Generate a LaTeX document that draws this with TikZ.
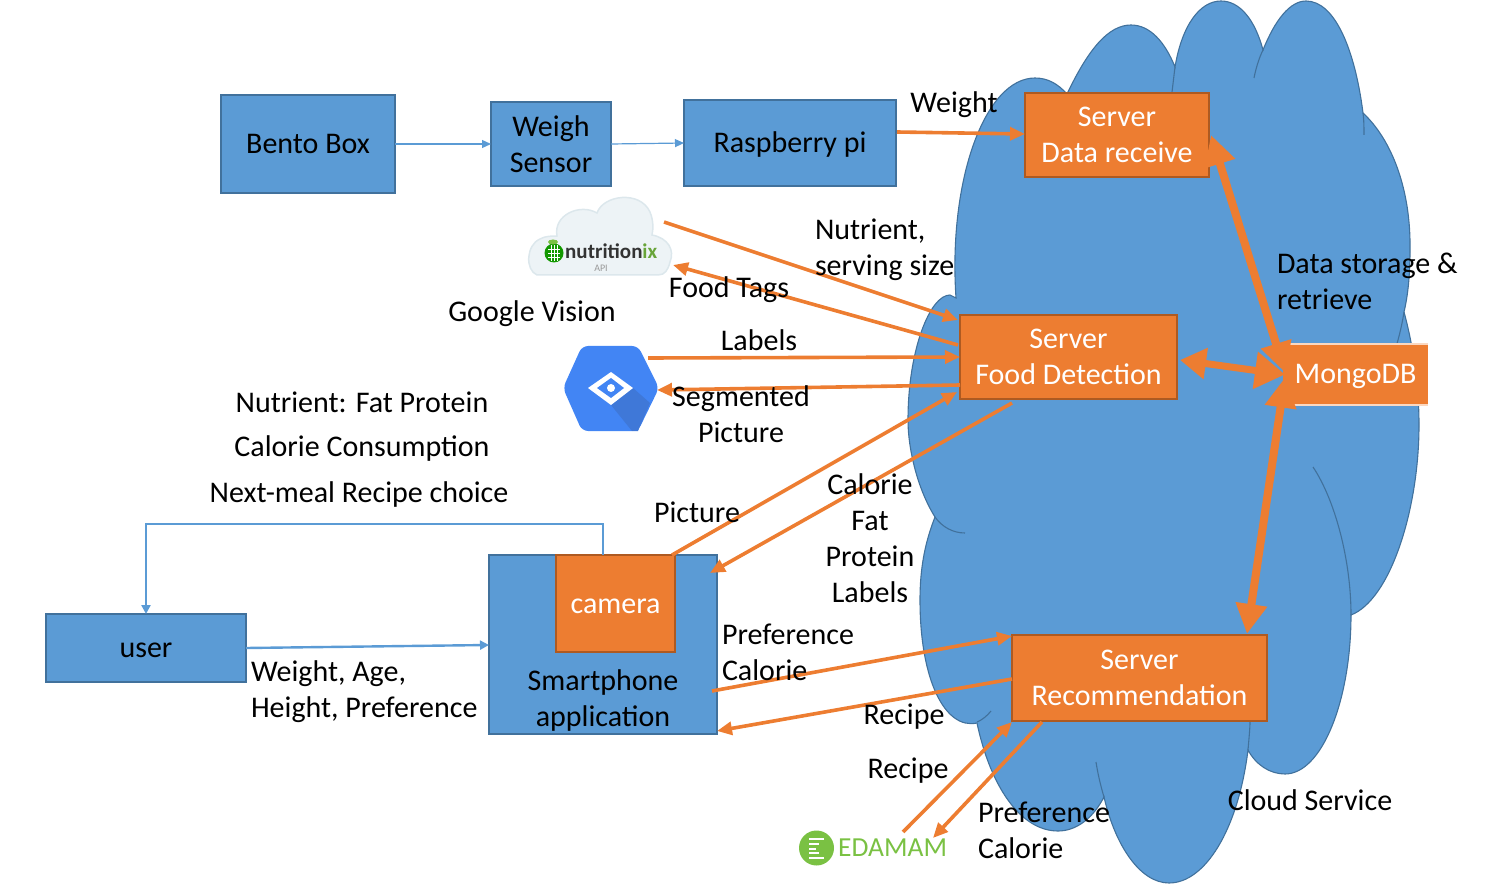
\documentclass[tikz,border=0pt]{standalone}
\usepackage{fontspec}
\setmainfont{Carlito}
\usetikzlibrary{arrows.meta}
\definecolor{cblue}{HTML}{5B9BD5}
\definecolor{cblueedge}{HTML}{41719C}
\definecolor{corange}{HTML}{ED7D31}
\definecolor{corangeedge}{HTML}{AE5A21}
\definecolor{gblue}{HTML}{4285F4}
\definecolor{gdark}{HTML}{3F78D8}
\definecolor{egreen}{HTML}{7AC143}
\definecolor{nfill}{HTML}{EDF3F6}
\definecolor{nedge}{HTML}{DCE7EC}
\tikzset{
  txt/.style={font=\fontsize{30}{36}\selectfont, inner sep=0pt, outer sep=0pt, align=center},
  sline/.style={text height=21pt, text depth=2pt},
  ltxt/.style={txt, align=left, anchor=west},
  bluebox/.style={draw=cblueedge, fill=cblue, line width=1.6pt, txt, anchor=north west},
  orangebox/.style={draw=corangeedge, fill=corange, line width=1.6pt, txt, text=white, anchor=north west},
  thinblue/.style={cblue, line width=1.2pt, -{Triangle[length=9pt,width=8pt]}},
  midblue/.style={cblue, line width=2.4pt, -{Triangle[length=9pt,width=9pt]}},
  oarrow/.style={corange, line width=3.6pt, -{Triangle[length=15pt,width=13pt]}},
  obig/.style={corange, line width=8pt, {Triangle[length=30pt,width=30pt]}-{Triangle[length=30pt,width=30pt]}},
  cloudline/.style={draw=cblueedge, line width=1.1pt},
}
\newcommand{\bx}[6]{\node[#1, minimum width=#4pt, minimum height=#5pt] (#2) at (#3) {#6};}
\begin{document}
\begin{tikzpicture}[x=1pt,y=-1pt]
\useasboundingbox (0,0) rectangle (1500,885);
% cloud
\path[cloudline, fill=cblue] (956,298)
 .. controls (948,180) and (985,78) .. (1035,78)
 .. controls (1048,78) and (1058,84) .. (1067,94)
 .. controls (1088,50) and (1108,25) .. (1131,25)
 .. controls (1150,25) and (1165,42) .. (1175,67)
 .. controls (1182,25) and (1200,1) .. (1221,1)
 .. controls (1240,1) and (1255,20) .. (1263,50)
 .. controls (1275,20) and (1290,1) .. (1306,1)
 .. controls (1335,1) and (1355,50) .. (1363,113)
 .. controls (1392,140) and (1411,190) .. (1410,250)
 .. controls (1410,275) and (1408,295) .. (1404,312)
 .. controls (1413,345) and (1419,385) .. (1419,425)
 .. controls (1419,510) and (1390,600) .. (1351,615)
 .. controls (1351,700) and (1322,774) .. (1285,774)
 .. controls (1270,774) and (1256,765) .. (1248,750)
 .. controls (1238,830) and (1205,883) .. (1169,883)
 .. controls (1140,883) and (1115,845) .. (1104,797)
 .. controls (1092,820) and (1075,831) .. (1058,831)
 .. controls (1020,831) and (990,785) .. (977,723)
 .. controls (945,730) and (920,680) .. (920,600)
 .. controls (920,565) and (926,540) .. (935,517)
 .. controls (918,490) and (908,450) .. (908,420)
 .. controls (908,350) and (930,295) .. (950,295)
 -- cycle;
\draw[cloudline] (1263,50) .. controls (1259,58) and (1256,68) .. (1254,78);
\draw[cloudline] (1175,67) .. controls (1174,75) and (1173,84) .. (1172,92);
\draw[cloudline] (1363,113) .. controls (1364,120) and (1364,128) .. (1364,135);
\draw[cloudline] (1404,312) .. controls (1402,325) and (1399,337) .. (1396,347);
\draw[cloudline] (1313,467) .. controls (1335,500) and (1351,560) .. (1351,615);
\draw[cloudline] (1248,750) .. controls (1249,738) and (1250,728) .. (1250,722);
\draw[cloudline] (1096,762) .. controls (1098,775) and (1101,787) .. (1104,797);
\draw[cloudline] (977,722) .. controls (982,720) and (987,716) .. (991,711);
\draw[cloudline] (935,517) .. controls (942,527) and (953,533) .. (965,533);
% boxes
\bx{bluebox,sline}{bento}{221,95}{174}{98}{Bento Box}
\bx{bluebox}{weigh}{491,102}{120}{84}{Weigh\\Sensor}
\bx{bluebox,sline}{pi}{684,100}{212}{86}{Raspberry pi}
\bx{orangebox}{srvdata}{1025,93}{184}{84}{Server\\Data receive}
\bx{orangebox}{srvfood}{960,315}{217}{84}{Server\\Food Detection}
\bx{orangebox}{srvrec}{1012,635}{255}{86}{Server\\Recommendation}
\bx{bluebox,sline}{user}{46,614}{200}{68}{user}
\bx{bluebox}{phone}{489,555}{228}{179}{}
\bx{orangebox,sline}{camera}{556,555}{119}{97}{camera}
\node[txt] (phonelabel) at (603,700) {Smartphone\\application};
\node[txt, sline, fill=corange, text=white, minimum width=145pt, minimum height=61pt, anchor=north west] (mongo) at (1283,344) {MongoDB};
\draw[white!70!corange, line width=1.4pt] (mongo.north west) -- (mongo.north east) (mongo.south west) -- (mongo.south east);
% nutritionix logo
\path[fill=nfill, draw=nedge, line width=1.5pt]
 (537,275) .. controls (525,270) and (526,245) .. (540,239)
 .. controls (545,236) and (552,236) .. (557,236)
 .. controls (553,215) and (580,203) .. (597,213)
 .. controls (603,195) and (640,190) .. (650,212)
 .. controls (654,222) and (653,230) .. (652,235)
 .. controls (668,238) and (675,250) .. (670,262)
 .. controls (668,270) and (665,275) .. (658,275) -- cycle;
\fill[green!55!black!90!lime] (554,253) circle[radius=9.5pt];
\draw[white, line width=.7pt] (548,249) -- (560,249) (548,253) -- (560,253) (548,257) -- (560,257) (551,245) -- (551,261) (554,245) -- (554,261) (557,245) -- (557,261);
\fill[egreen] (553,242) ellipse[x radius=5pt, y radius=2.5pt];
\node[inner sep=0pt, anchor=west, font=\fontsize{21}{22}\selectfont\bfseries, text=black!80] (nutrilogo) at (565,251) {nutrition\textcolor{egreen!85!black}{ix}};
\node[inner sep=0pt, font=\fontsize{10}{11}\selectfont, text=black!40] (nutriapi) at (601,268) {API};
\coordinate (nutriout) at (664,222);
\coordinate (nutriin) at (673,265);
% google vision logo
\path[fill=gblue, rounded corners=6pt] (563,388) -- (582,346) -- (638,346) -- (659,388) -- (638,431) -- (582,431) -- cycle;
\fill[gdark] (611,405) -- (633,388) -- (650,403) -- (638,431) -- (632,431) -- cycle;
\fill[white] (588,388) -- (611,372) -- (633,388) -- (611,405) -- cycle;
\fill[gblue] (597,388) -- (611,378) -- (624,388) -- (611,398) -- cycle;
\fill[white] (611,388) circle[radius=4pt];
\coordinate (visionout) at (648,358);
\coordinate (visionin) at (657,390);
% edamam logo
\fill[egreen] (816.5,848) circle[radius=17.5pt];
\draw[white, line width=1.4pt] (809,839) -- (824,839) (809,844) -- (819,844) (809,849) -- (816,849) (809,853) -- (819,853) (809,858) -- (824,858);
\node[inner sep=0pt, anchor=west, font=\fontsize{27.5}{30}\selectfont, text=egreen] (edamam) at (838,848) {EDAMAM};
\coordinate (edamamout) at (903,832);
\coordinate (edamamin) at (933,838);
% connectors
\draw[thinblue] (bento.east) -- (weigh.west);
\draw[thinblue] (weigh.east) -- (pi.west);
\draw[oarrow] ([xshift=1pt,yshift=11pt]pi.east) -- ([yshift=1pt]srvdata.west);
\draw[oarrow] (nutriout) -- ([xshift=-2pt,yshift=-5pt]srvfood.north west);
\draw[oarrow] ([xshift=-2pt,yshift=-30pt]srvfood.north west) -- (nutriin);
\draw[oarrow] (visionout) -- (srvfood.west);
\draw[oarrow] ([yshift=-28pt]srvfood.west) -- (visionin);
\draw[oarrow] ([xshift=-3pt]camera.north east) -- ([xshift=-3pt,yshift=7pt]srvfood.south west);
\draw[oarrow] ([xshift=52pt,yshift=-4pt]srvfood.south west) -- ([xshift=-7pt,yshift=-18pt]phone.north east);
\draw[oarrow] ([xshift=-5pt,yshift=43pt]phone.south east) -- ([yshift=-1pt]srvrec.north west);
\draw[oarrow] ([yshift=-44pt]srvrec.north west) -- ([yshift=3pt]phone.south east);
\draw[oarrow] (edamamout) -- ([yshift=-1pt]srvrec.south west);
\draw[oarrow] ([xshift=30pt,yshift=-1pt]srvrec.south west) -- (edamamin);
\draw[obig] ([xshift=2pt]srvdata.east) -- ([xshift=2pt,yshift=2pt]mongo.west);
\draw[corange, line width=7pt, {Triangle[length=26pt,width=30pt]}-{Triangle[length=30pt,width=36pt]}] ([xshift=3pt,yshift=-3pt]srvfood.east) -- ([xshift=2pt]mongo.west);
\draw[obig] ([xshift=2pt,yshift=-3pt]mongo.west) -- ([xshift=-20pt,yshift=1pt]srvrec.north east);
\draw[midblue] (phone.north) -- ++(0,-31) -| (user.north);
\draw[midblue] (user.east) -- (phone.west |- 0,645);
% labels
\node[txt,sline] (t1) at (954,103) {Weight};
\node[ltxt] (t2) at (815,250) {Nutrient,\\serving size};
\node[txt,sline] (t3) at (729,288) {Food Tags};
\node[txt,sline] (t4) at (532,312) {Google Vision};
\node[txt,sline] (t5) at (759,341) {Labels};
\node[txt] (t6) at (741,414) {Segmented\\Picture};
\node[txt,sline] (t7) at (362,403) {Nutrient: Fat Protein};
\node[txt,sline] (t8) at (362,447) {Calorie Consumption};
\node[txt,sline] (t9) at (359,493) {Next-meal Recipe choice};
\node[txt,sline] (t10) at (697,513) {Picture};
\node[txt] (t11) at (870,538) {Calorie\\Fat\\Protein\\Labels};
\node[ltxt] (t12) at (722,652) {Preference\\Calorie};
\node[ltxt] (t13) at (251,692) {Weight, Age,\\Height, Preference};
\node[txt,sline] (t14) at (904,715) {Recipe};
\node[txt,sline] (t15) at (908,769) {Recipe};
\node[ltxt] (t16) at (978,830) {Preference\\Calorie};
\node[txt,sline] (t17) at (1310,801) {Cloud Service};
\node[ltxt] (t18) at (1277,281) {Data storage \&\\retrieve};
\end{tikzpicture}
\end{document}
